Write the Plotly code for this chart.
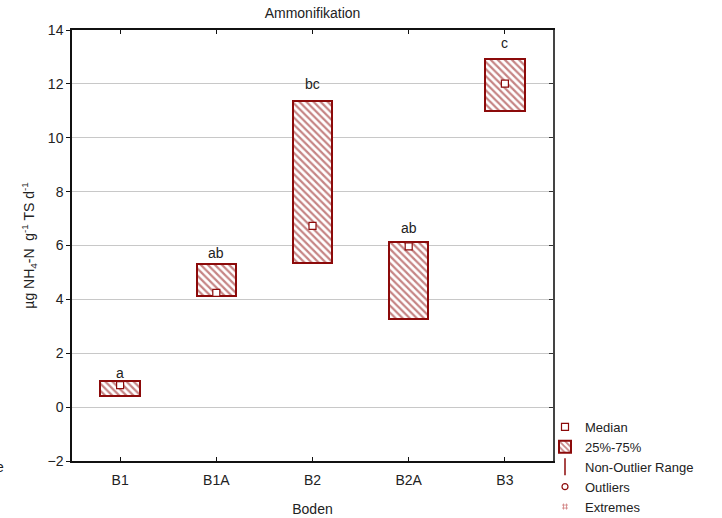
import plotly.graph_objects as go

# Boden categories and the quartile / median values of ammonification
soils = ["B1", "B1A", "B2", "B2A", "B3"]
q1 = [0.42, 4.14, 5.35, 3.27, 11.00]
q3 = [0.98, 5.33, 11.37, 6.13, 12.94]
median = [0.82, 4.24, 6.73, 5.97, 12.01]

# significance letters and the height their baseline sits at
letters = ["a", "ab", "bc", "ab", "c"]
letter_y = [1.07, 5.52, 11.80, 6.45, 13.35]

y_ticks = [-2, 0, 2, 4, 6, 8, 10, 12, 14]

RED = "#8c0a0a"
FONT = "Liberation Sans, Arial, sans-serif"

fig = go.Figure()

# interquartile boxes (hatched)
fig.add_trace(go.Bar(
    x=soils,
    y=[b - a for a, b in zip(q1, q3)],
    base=q1,
    width=0.41,
    name="25%-75%",
    legendrank=2,
    marker=dict(
        color="white",
        line=dict(color=RED, width=2),
        pattern=dict(shape="\\", fgcolor=RED, bgcolor="white", size=5, solidity=0.45),
    ),
    hoverinfo="skip",
))

# medians
fig.add_trace(go.Scatter(
    x=soils, y=median, mode="markers", name="Median", legendrank=1,
    marker=dict(symbol="square", size=7, color="white", line=dict(color=RED, width=1.2)),
))

# legend-only entries
fig.add_trace(go.Scatter(
    x=[None], y=[None], mode="markers", name="Non-Outlier Range", legendrank=3,
    marker=dict(symbol="line-ns-open", size=12, color=RED, line=dict(color=RED, width=1.5)),
))
fig.add_trace(go.Scatter(
    x=[None], y=[None], mode="markers", name="Outliers", legendrank=4,
    marker=dict(symbol="circle-open", size=6, color=RED, line=dict(color=RED, width=1.2)),
))
fig.add_trace(go.Scatter(
    x=[None], y=[None], mode="markers", name="Extremes", legendrank=5,
    marker=dict(symbol="hash-open", size=6, color="#d08080", line=dict(color="#d08080", width=0.8)),
))

# mirrored axes on the top and right, carrying inward ticks only
fig.add_trace(go.Scatter(x=soils, y=median, xaxis="x2", yaxis="y2",
                         mode="markers", marker=dict(opacity=0), showlegend=False, hoverinfo="skip"))

for s, ly, t in zip(soils, letter_y, letters):
    fig.add_annotation(x=s, y=ly, text=t, showarrow=False, yanchor="bottom", yshift=-5,
                       font=dict(size=14, color="#222", family=FONT))

fig.add_annotation(xref="paper", yref="paper", x=-72 / 481, y=(461 - 467) / 431,
                   xanchor="left", yanchor="middle", text="e", showarrow=False,
                   xshift=-6, font=dict(size=14, color="#222", family=FONT))

fig.update_layout(
    width=722, height=518,
    margin=dict(l=72, r=169, t=30, b=57, autoexpand=False),
    paper_bgcolor="white", plot_bgcolor="white",
    font=dict(family=FONT, size=14, color="#222"),
    title=dict(text="Ammonifikation", x=(72 + 553) / 2 / 722, xanchor="center",
               y=1 - 13 / 518, yanchor="middle", font=dict(size=14, color="#222")),
    showlegend=True,
    legend=dict(xref="container", yref="container", x=545 / 722, xanchor="left",
                y=1 - 412 / 518, yanchor="top",
                bgcolor="rgba(0,0,0,0)", font=dict(size=13, color="#222"),
                tracegroupgap=0, itemwidth=30, traceorder="normal"),
    xaxis=dict(
        title=dict(text="Boden", standoff=18, font=dict(size=14)),
        categoryorder="array", categoryarray=soils,
        range=[-0.5, 4.5], showgrid=False, zeroline=False,
        showline=True, linecolor="#111", linewidth=1.5,
        ticks="inside", ticklen=4, tickcolor="#111",
        tickfont=dict(size=14), ticklabelstandoff=5,
    ),
    yaxis=dict(
        title=dict(text="µg NH<sub>4</sub>-N  g<sup>-1</sup> TS d<sup>-1</sup>", standoff=10,
                   font=dict(size=14)),
        range=[-2, 14], tickvals=y_ticks, showgrid=True, gridcolor="#c8c8c8", gridwidth=1,
        zeroline=False, showline=True, linecolor="#111", linewidth=1.5,
        ticks="outside", ticklen=4, tickcolor="#111", tickfont=dict(size=14),
    ),
    xaxis2=dict(overlaying="x", side="top", range=[-0.5, 4.5], categoryorder="array",
                categoryarray=soils, showgrid=False, zeroline=False, showline=True,
                linecolor="#111", linewidth=1.5, ticks="inside", ticklen=4, tickcolor="#111",
                showticklabels=False, anchor="y"),
    yaxis2=dict(overlaying="y", side="right", range=[-2, 14], tickvals=y_ticks,
                showgrid=False, zeroline=False, showline=True, linecolor="#444", linewidth=1.5,
                ticks="inside", ticklen=4, tickcolor="#333", showticklabels=False, anchor="x"),
    bargap=0,
)

fig.write_html("out.html")
